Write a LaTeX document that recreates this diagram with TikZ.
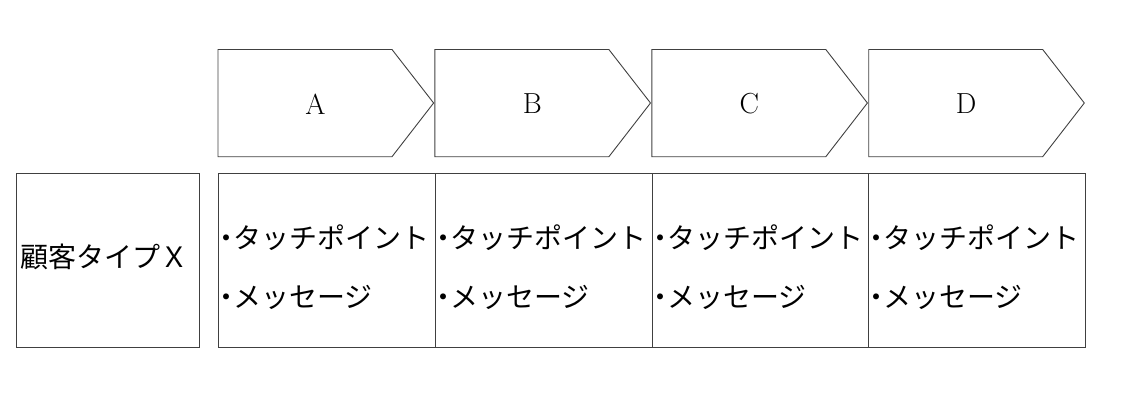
\documentclass[tikz,border=0pt]{standalone}
\usepackage{fontspec}
\newfontfamily\jp{Noto Sans CJK JP}
\tikzset{
  chev/.style={draw=black!75, line width=0.9pt, line join=miter},
  cell/.style={draw=black!75, line width=0.9pt},
  lbl/.style={inner sep=0pt, font=\fontsize{29}{34}\selectfont},
  item/.style={inner sep=0pt, anchor=west, font=\fontsize{28}{33}\selectfont\jp},
}
\newcommand{\bul}{\makebox[0.5em]{・}}
\begin{document}
\begin{tikzpicture}[x=1pt,y=-1pt]
\useasboundingbox (0,0) rectangle (1128,400);
% chevrons
\foreach \i/\t in {0/A,1/B,2/C,3/D}{
  \pgfmathsetmacro{\L}{218+216.9*\i}
  \pgfmathsetmacro{\T}{\L+215.6}
  \pgfmathsetmacro{\S}{\T-41.6}
  \pgfmathsetmacro{\C}{(\L+(\S+\T)/2)/2}
  \draw[chev] (\L,49.5) -- (\S,49.5) -- (\T,103) -- (\S,156.7) -- (\L,156.7) -- cycle;
  \node[lbl] (h\t) at (\C,104) {\t};
}
% customer box
\draw[cell] (16,173.3) rectangle (199,347);
\node[item] (cust) at (20,257) {顧客タイプＸ};
% cells
\foreach \i/\a/\b in {0/218/435,1/435/652,2/652/868.3,3/868.3/1085.7}{
  \draw[cell] (\a,173.3) rectangle (\b,347);
  \node[item] (tp\i) at (\a+1,238) {\bul タッチポイント};
  \node[item] (ms\i) at (\a+1,297) {\bul メッセージ};
}
\end{tikzpicture}
\end{document}
